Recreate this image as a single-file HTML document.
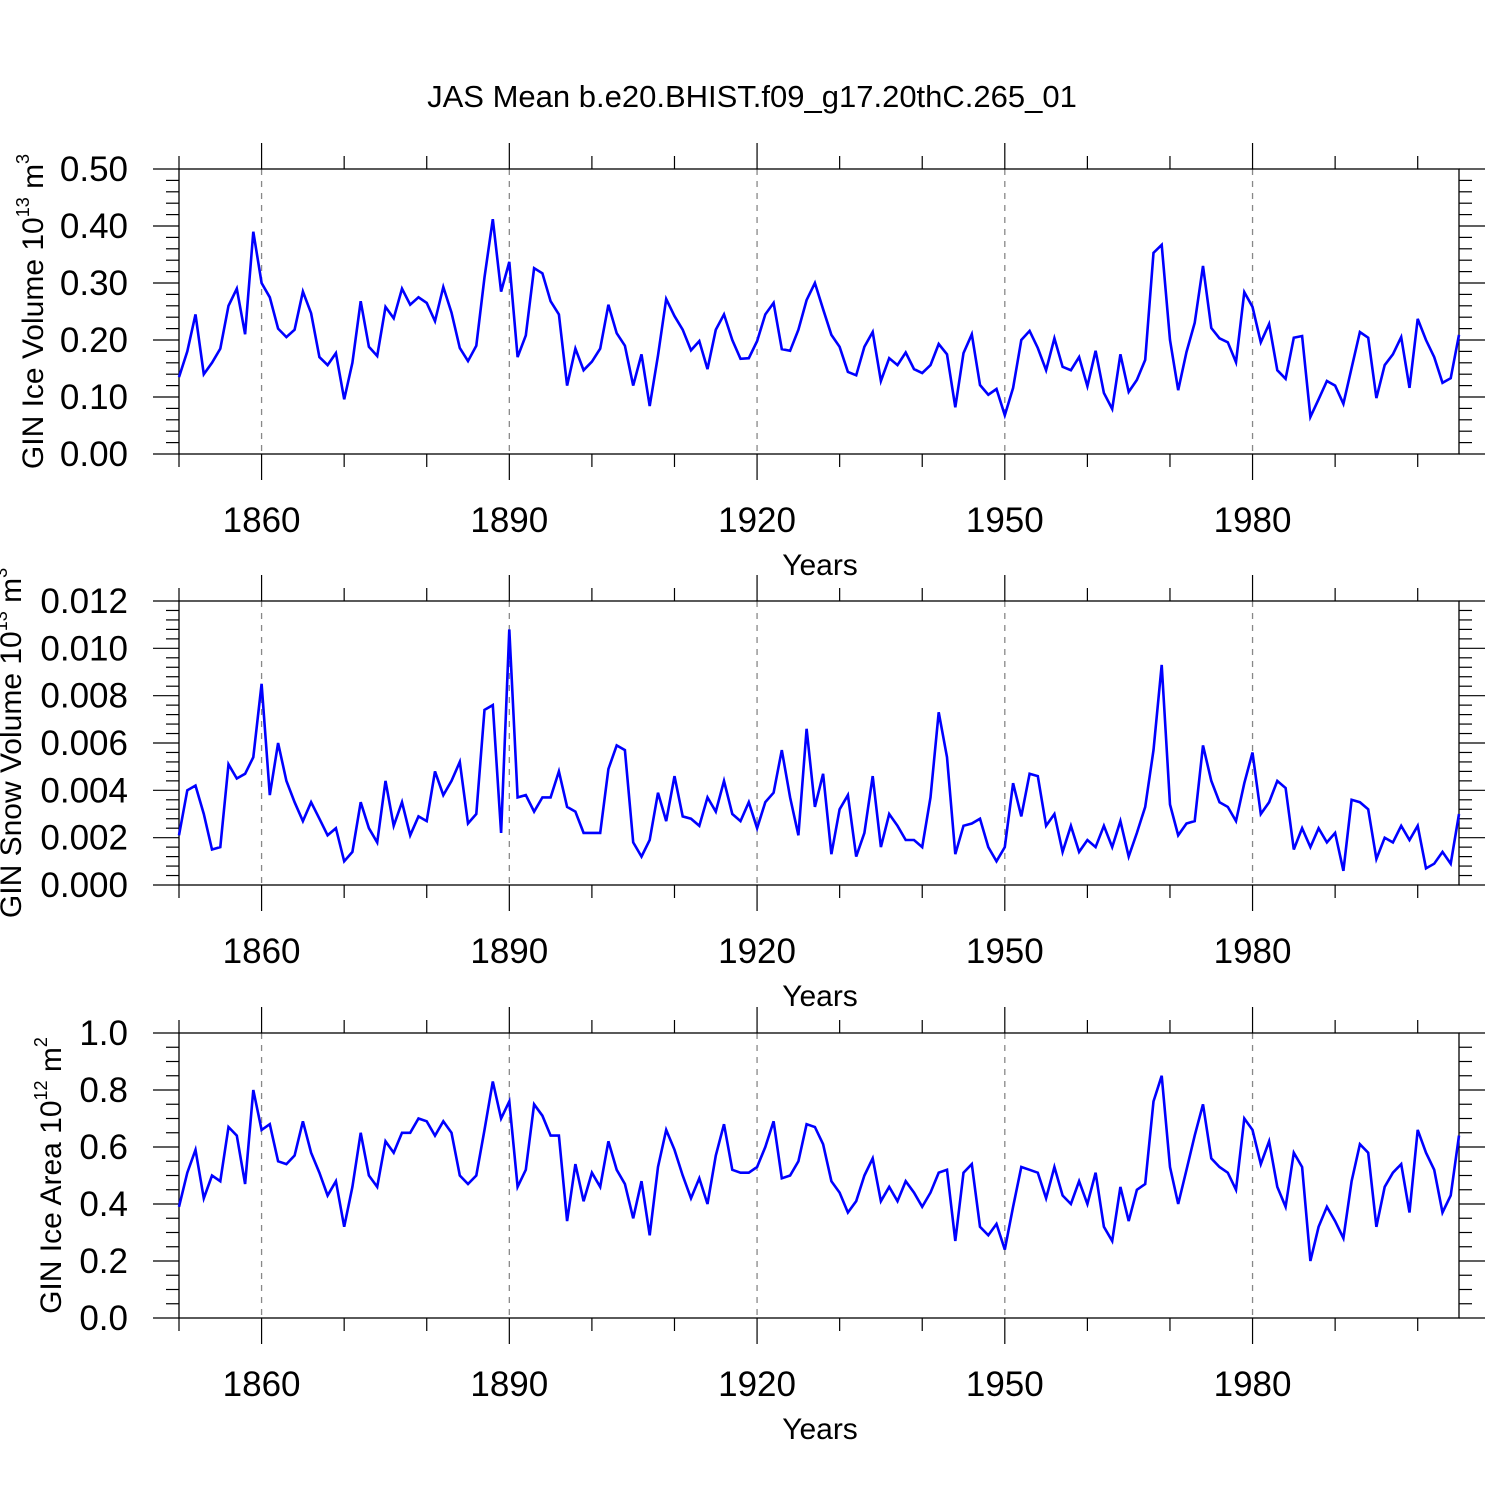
<!DOCTYPE html>
<html><head><meta charset="utf-8"><style>
html,body{margin:0;padding:0;background:#fff}
svg{display:block}
text{font-family:"Liberation Sans",sans-serif;fill:#000}
</style></head><body>
<svg id="chart" width="1500" height="1500" viewBox="0 0 1500 1500" xmlns="http://www.w3.org/2000/svg">
<text x="752" y="107" font-size="31" text-anchor="middle">JAS Mean b.e20.BHIST.f09_g17.20thC.265_01</text>
</svg>
<script>
const startYear = 1850;
const endYear = 2005;
const xTickYears = [1860, 1890, 1920, 1950, 1980];
const iceVolume = [0.135,0.18,0.245,0.14,0.16,0.185,0.26,0.29,0.21,0.39,0.30,0.275,0.22,0.205,0.218,0.285,0.247,0.17,0.156,0.177,0.096,0.16,0.268,0.188,0.172,0.258,0.238,0.29,0.262,0.275,0.265,0.233,0.293,0.248,0.186,0.163,0.19,0.31,0.412,0.285,0.337,0.17,0.208,0.326,0.317,0.268,0.245,0.12,0.185,0.147,0.162,0.185,0.262,0.212,0.19,0.12,0.175,0.084,0.173,0.272,0.242,0.218,0.182,0.198,0.149,0.218,0.245,0.2,0.167,0.168,0.198,0.245,0.265,0.184,0.181,0.218,0.27,0.3,0.254,0.209,0.188,0.144,0.138,0.188,0.214,0.128,0.168,0.156,0.178,0.149,0.142,0.156,0.193,0.175,0.082,0.177,0.21,0.121,0.104,0.114,0.068,0.116,0.2,0.216,0.186,0.147,0.203,0.153,0.147,0.17,0.119,0.181,0.107,0.079,0.175,0.109,0.13,0.165,0.353,0.367,0.2,0.112,0.179,0.23,0.33,0.221,0.203,0.196,0.161,0.284,0.258,0.196,0.228,0.147,0.132,0.204,0.207,0.065,0.096,0.128,0.12,0.088,0.151,0.214,0.204,0.098,0.156,0.175,0.205,0.116,0.237,0.2,0.17,0.125,0.133,0.209];
const snowVolume = [0.0021,0.0040,0.0042,0.0030,0.0015,0.0016,0.0051,0.0045,0.0047,0.0054,0.0085,0.0038,0.0060,0.0044,0.0035,0.0027,0.0035,0.0028,0.0021,0.0024,0.0010,0.0014,0.0035,0.0024,0.0018,0.0044,0.0025,0.0035,0.0021,0.0029,0.0027,0.0048,0.0038,0.0044,0.0052,0.0026,0.0030,0.0074,0.0076,0.0022,0.0108,0.0037,0.0038,0.0031,0.0037,0.0037,0.0048,0.0033,0.0031,0.0022,0.0022,0.0022,0.0049,0.0059,0.0057,0.0018,0.0012,0.0019,0.0039,0.0027,0.0046,0.0029,0.0028,0.0025,0.0037,0.0031,0.0044,0.0030,0.0027,0.0035,0.0024,0.0035,0.0039,0.0057,0.0037,0.0021,0.0066,0.0033,0.0047,0.0013,0.0032,0.0038,0.0012,0.0022,0.0046,0.0016,0.0030,0.0025,0.0019,0.0019,0.0016,0.0037,0.0073,0.0054,0.0013,0.0025,0.0026,0.0028,0.0016,0.0010,0.0016,0.0043,0.0029,0.0047,0.0046,0.0025,0.0030,0.0014,0.0025,0.0014,0.0019,0.0016,0.0025,0.0016,0.0027,0.0012,0.0022,0.0033,0.0057,0.0093,0.0034,0.0021,0.0026,0.0027,0.0059,0.0044,0.0035,0.0033,0.0027,0.0043,0.0056,0.0030,0.0035,0.0044,0.0041,0.0015,0.0024,0.0016,0.0024,0.0018,0.0022,0.0006,0.0036,0.0035,0.0032,0.0011,0.0020,0.0018,0.0025,0.0019,0.0025,0.0007,0.0009,0.0014,0.0009,0.0030];
const iceArea = [0.39,0.51,0.59,0.42,0.50,0.48,0.67,0.64,0.47,0.80,0.66,0.68,0.55,0.54,0.57,0.69,0.58,0.51,0.43,0.48,0.32,0.46,0.65,0.50,0.46,0.62,0.58,0.65,0.65,0.70,0.69,0.64,0.69,0.65,0.50,0.47,0.50,0.66,0.83,0.70,0.76,0.46,0.52,0.75,0.71,0.64,0.64,0.34,0.54,0.41,0.51,0.46,0.62,0.52,0.47,0.35,0.48,0.29,0.53,0.66,0.59,0.50,0.42,0.49,0.40,0.57,0.68,0.52,0.51,0.51,0.53,0.60,0.69,0.49,0.50,0.55,0.68,0.67,0.61,0.48,0.44,0.37,0.41,0.50,0.56,0.41,0.46,0.41,0.48,0.44,0.39,0.44,0.51,0.52,0.27,0.51,0.54,0.32,0.29,0.33,0.24,0.39,0.53,0.52,0.51,0.42,0.53,0.43,0.40,0.48,0.40,0.51,0.32,0.27,0.46,0.34,0.45,0.47,0.76,0.85,0.53,0.40,0.52,0.64,0.75,0.56,0.53,0.51,0.45,0.70,0.66,0.54,0.62,0.46,0.39,0.58,0.53,0.20,0.32,0.39,0.34,0.28,0.48,0.61,0.58,0.32,0.46,0.51,0.54,0.37,0.66,0.58,0.52,0.37,0.43,0.64];
const ticks1 = ["0.00","0.10","0.20","0.30","0.40","0.50"];
const ticks2 = ["0.000","0.002","0.004","0.006","0.008","0.010","0.012"];
const ticks3 = ["0.0","0.2","0.4","0.6","0.8","1.0"];

const NS='http://www.w3.org/2000/svg';
const svg=document.getElementById('chart');
const L=179,R=1459;
function xs(y){return L+(y-startYear)/(endYear-startYear)*(R-L);}
function mk(tag,attrs,parent){const e=document.createElementNS(NS,tag);for(const k in attrs)e.setAttribute(k,attrs[k]);(parent||svg).appendChild(e);return e;}

const panels=[
 {top:169,bot:454,max:0.5,data:iceVolume,ticks:ticks1,minor:5,name:'ice-volume',title:'GIN Ice Volume 10',sup:'13',unit:' m',usup:'3',tx:43},
 {top:601,bot:885,max:0.012,data:snowVolume,ticks:ticks2,minor:5,name:'snow-volume',title:'GIN Snow Volume 10',sup:'13',unit:' m',usup:'3',tx:21},
 {top:1033,bot:1318,max:1.0,data:iceArea,ticks:ticks3,minor:4,name:'ice-area',title:'GIN Ice Area 10',sup:'12',unit:' m',usup:'2',tx:61}
];
panels.forEach(p=>{
 const g=mk('g',{});
 
 
 const ys=v=>p.bot-v/p.max*(p.bot-p.top);
 xTickYears.forEach(yr=>{
  const l=mk('line',{x1:xs(yr),x2:xs(yr),y1:p.top,y2:p.bot,stroke:'#888','stroke-width':1.3,'stroke-dasharray':'6,6'},g);
  
  
 });
 for(let yr=startYear;yr<=endYear;yr+=10){
  const major=xTickYears.includes(yr);const len=major?26:13;
  mk('line',{x1:xs(yr),x2:xs(yr),y1:p.top-len,y2:p.top,stroke:'#000','stroke-width':1.2},g);
  mk('line',{x1:xs(yr),x2:xs(yr),y1:p.bot,y2:p.bot+len,stroke:'#000','stroke-width':1.2},g);
 }
 xTickYears.forEach(yr=>{
  const t=mk('text',{x:xs(yr),y:p.bot+78,'font-size':35,'text-anchor':'middle'},g);
  
  
  t.textContent=String(yr);
 });
 const xt=mk('text',{x:820,y:p.bot+121,'font-size':30,'text-anchor':'middle'},g);
 
 
 xt.textContent='Years';
 const nMaj=p.ticks.length-1;const step=p.max/nMaj;
 for(let i=0;i<=nMaj*p.minor;i++){
  const v=i*step/p.minor;const major=i%p.minor===0;const len=major?26:13;const y=ys(v);
  mk('line',{x1:L-len,x2:L,y1:y,y2:y,stroke:'#000','stroke-width':1.2},g);
  mk('line',{x1:R,x2:R+len,y1:y,y2:y,stroke:'#000','stroke-width':1.2},g);
 }
 p.ticks.forEach((lab,i)=>{
  const t=mk('text',{x:128,y:ys(i*step)+12,'font-size':35,'text-anchor':'end'},g);
  
  
  t.textContent=lab;
 });
 const f=mk('rect',{x:L,y:p.top,width:R-L,height:p.bot-p.top,fill:'none',stroke:'#000','stroke-width':1.3},g);
 
 
 const cy=(p.top+p.bot)/2;
 const yt=mk('text',{x:0,y:0,'font-size':30,'text-anchor':'middle',transform:`translate(${p.tx},${cy}) rotate(-90)`},g);
 
 
 yt.innerHTML=p.title+'<tspan font-size="18" dy="-14">'+p.sup+'</tspan><tspan dy="14">'+p.unit+'</tspan><tspan font-size="18" dy="-14">'+p.usup+'</tspan>';
 const pts=p.data.map((v,i)=>xs(startYear+i).toFixed(1)+','+ys(v).toFixed(1)).join(' ');
 const pl=mk('polyline',{points:pts,fill:'none',stroke:'#0000ff','stroke-width':2.6,'stroke-linejoin':'miter'},g);
 
 
});
</script>
</body></html>
